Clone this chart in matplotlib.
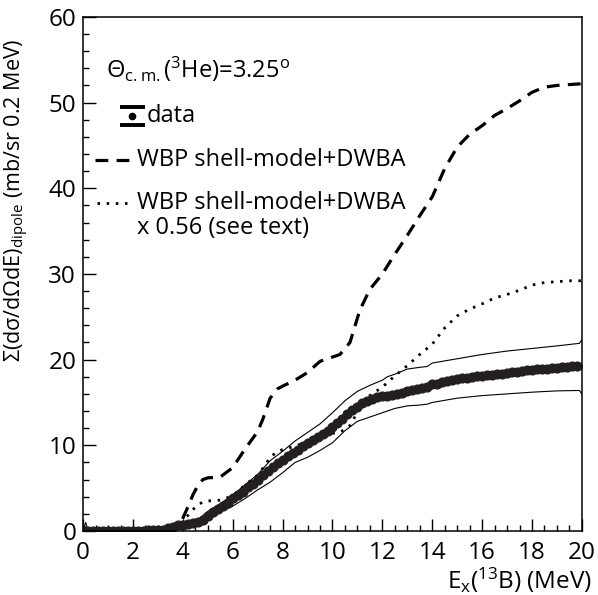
import numpy as np
import matplotlib.pyplot as plt

plt.rcParams['font.family'] = ['Open Sans', 'DejaVu Sans']
plt.rcParams['mathtext.fontset'] = 'custom'
plt.rcParams['mathtext.rm'] = 'Open Sans'
plt.rcParams['mathtext.default'] = 'regular'

# measured dipole strength, 0.2 MeV bins
e_data = np.arange(0, 20, 0.2)
sigma_data = [0.0, 0.05, 0.0, 0.02, 0.05, 0.03, 0.02, 0.04, 0.03, 0.05,
              0.02, 0.03, 0.05, 0.08, 0.15, 0.12, 0.15, 0.3, 0.5, 0.65,
              0.75, 0.8, 0.9, 1.0, 1.3, 1.8, 2.2, 2.6, 2.9, 3.3,
              3.8, 4.2, 4.6, 5.1, 5.5, 6.0, 6.5, 7.0, 7.5, 7.9,
              8.3, 8.7, 9.1, 9.5, 9.9, 10.3, 10.6, 11.0, 11.3, 11.7,
              12.1, 12.6, 13.1, 13.6, 14.1, 14.5, 14.9, 15.2, 15.4, 15.6,
              15.7, 15.8, 15.9, 16.0, 16.1, 16.3, 16.4, 16.6, 16.7, 16.8,
              17.1, 17.2, 17.4, 17.5, 17.6, 17.7, 17.8, 17.9, 18.0, 18.05,
              18.1, 18.2, 18.25, 18.3, 18.35, 18.4, 18.5, 18.55, 18.65, 18.75,
              18.8, 18.85, 18.9, 18.95, 19.0, 19.05, 19.1, 19.15, 19.2, 19.2]

# systematic error band
e_band = [0.0, 0.1, 0.2, 1.0, 2.0, 3.0, 3.3, 3.6, 4.0, 4.6, 5.0, 5.5, 6.0, 6.5,
          7.0, 7.5, 8.0, 8.5, 9.0, 9.5, 10.0, 10.5, 11.0, 11.5, 12.0, 12.2,
          12.5, 13.0, 13.5, 13.8, 14.0, 15.0, 16.0, 17.0, 18.0, 19.0, 19.9, 20.0]
band_hi = [0.0, 1.0, 0.1, 0.1, 0.1, 0.15, 0.3, 0.7, 1.0, 1.3, 2.3, 3.2, 4.2, 5.4,
           6.6, 8.2, 9.3, 10.5, 11.5, 12.5, 13.8, 15.2, 16.3, 17.0, 17.6, 18.0,
           18.3, 18.9, 19.1, 19.2, 19.6, 20.1, 20.6, 21.0, 21.3, 21.6, 21.9, 22.3]
band_lo = [0.0, 0.5, 0.0, 0.0, 0.0, 0.0, 0.1, 0.3, 0.5, 0.8, 1.4, 2.2, 2.9, 3.8,
           4.8, 5.7, 6.8, 8.0, 8.6, 9.4, 10.3, 11.7, 12.8, 13.3, 13.8, 14.0,
           14.3, 14.6, 14.7, 14.8, 15.0, 15.5, 15.8, 16.0, 16.2, 16.35, 16.4, 16.0]

# WBP shell-model + DWBA
e_th = [0.0, 3.6, 3.8, 4.0, 4.2, 4.4, 4.6, 4.8, 5.0, 5.5, 6.0, 6.5, 7.0, 7.2,
        7.5, 7.8, 8.0, 8.5, 9.0, 9.5, 10.0, 10.3, 10.7, 11.1, 11.5, 12.0, 12.5,
        13.0, 13.5, 14.0, 14.5, 15.0, 15.5, 16.0, 16.5, 17.0, 17.5, 18.0, 18.5,
        19.0, 19.5, 20.0]
wbp = [0.0, 0.0, 0.5, 1.5, 2.8, 4.2, 5.3, 6.0, 6.2, 6.3, 7.4, 9.6, 11.6, 13.0,
       15.5, 16.6, 16.9, 17.6, 18.5, 19.8, 20.3, 20.6, 22.0, 25.8, 28.2, 30.0, 32.3,
       34.5, 36.8, 39.0, 42.3, 44.8, 46.3, 47.3, 48.5, 49.3, 50.2, 51.2, 51.8,
       52.0, 52.1, 52.2]
wbp_scaled = [0.0, 0.0, 0.5, 1.2, 1.8, 2.5, 3.0, 3.4, 3.5, 3.6, 4.1, 5.4, 6.5, 7.3,
              8.6, 9.3, 9.5, 9.9, 10.4, 11.1, 11.4, 11.5, 12.3, 14.4, 15.8, 16.8, 18.1,
              19.3, 20.6, 21.8, 23.7, 25.1, 25.9, 26.5, 27.2, 27.6, 28.1, 28.7, 29.0,
              29.1, 29.2, 29.2]

fig = plt.figure(figsize=(5.98, 5.95), dpi=100)
ax = fig.add_axes([0.139, 0.1076, 0.834, 0.864])

ax.plot(e_band, band_hi, color='black', lw=0.8)
ax.plot(e_band, band_lo, color='black', lw=0.8)
ax.plot(e_th, wbp, color='black', lw=2.3, linestyle=(0, (4, 2.6)))
ax.plot(e_th, wbp_scaled, color='black', lw=2.0, linestyle=(0, (0.9, 2.4)))
ax.plot(e_data, sigma_data, 'o', color='#231f20', ms=6.3, mec='#231f20')

ax.set_xlim(0, 20)
ax.set_ylim(0, 60)
ax.set_xticks(np.arange(0, 21, 2))
ax.set_xticks(np.arange(0, 20.1, 0.5), minor=True)
ax.set_yticks(np.arange(0, 61, 10))
ax.set_yticks(np.arange(0, 61, 2), minor=True)
ax.tick_params(which='both', direction='in', top=False, right=False,
               labelsize=17.5, width=1.0)
ax.tick_params(which='major', length=9, pad=5)
ax.tick_params(which='minor', length=4.5)
ax.tick_params(axis='x', pad=7)
for s in ax.spines.values():
    s.set_linewidth(1.1)

# manual legend
fs = 17
ax.text(0.045, 0.897, r'Θ$_{c.m.}$($^{3}$He)=3.25$^{o}$', transform=ax.transAxes,
        fontsize=fs, va='center', ha='left')
ax.errorbar([0.098], [0.807], yerr=[0.017], fmt='o', color='black', ms=4.5,
            capsize=9, capthick=2.8, elinewidth=0, transform=ax.transAxes)
ax.text(0.128, 0.807, 'data', transform=ax.transAxes, fontsize=fs, va='center')
ax.plot([0.024, 0.1], [0.722, 0.722], color='black', lw=2.3,
        linestyle=(0, (4, 2.6)), transform=ax.transAxes)
ax.text(0.108, 0.722, 'WBP shell-model+DWBA', transform=ax.transAxes,
        fontsize=fs, va='center')
ax.plot([0.028, 0.1], [0.638, 0.638], color='black', lw=2.0,
        linestyle=(0, (0.9, 2.4)), transform=ax.transAxes)
ax.text(0.108, 0.638, 'WBP shell-model+DWBA', transform=ax.transAxes,
        fontsize=fs, va='center')
ax.text(0.108, 0.589, 'x 0.56 (see text)', transform=ax.transAxes,
        fontsize=fs, va='center')

fig.text(0.99, 0.025, r'E$_{x}$($^{13}$B) (MeV)', fontsize=17.5, ha='right',
         va='center')
fig.text(0.028, 0.935, r'Σ(dσ/dΩdE)$_{dipole}$ (mb/sr 0.2 MeV)', fontsize=15.5,
         rotation=90, ha='center', va='top')

fig.savefig('out.png', dpi=100)
